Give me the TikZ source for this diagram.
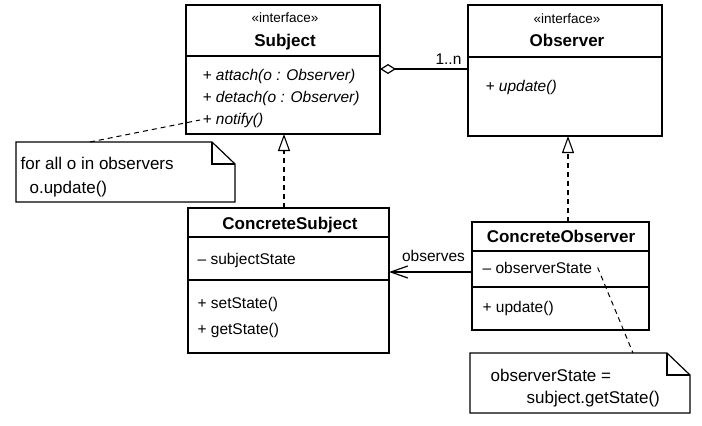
\documentclass[tikz,border=0pt]{standalone}
\usepackage{fontspec}
\setmainfont{Liberation Sans}
\usetikzlibrary{arrows.meta, calc}

\begin{document}
\begin{tikzpicture}[x=1pt, y=-1pt, line width=1.2pt,
    box/.style={draw, anchor=north west, inner sep=0pt, outer sep=0pt},
    stereo/.style={anchor=base, inner sep=0pt, font=\fontsize{13.5}{16}\selectfont},
    title/.style={anchor=base, inner sep=0pt, font=\fontsize{17}{20}\selectfont\bfseries},
    member/.style={anchor=base west, inner sep=0pt, font=\fontsize{15.5}{18}\selectfont},
    notetext/.style={anchor=base west, inner sep=0pt, font=\fontsize{17}{20}\selectfont},
    realize/.style={line width=1.1pt, dash pattern=on 5pt off 4pt, -{Triangle[open, length=17pt, width=12pt]}},
    noteline/.style={line width=1pt, dash pattern=on 5pt off 4pt}]
  \useasboundingbox (0,0) rectangle (702,426);
  % interfaces
  \node[box, minimum width=194pt, minimum height=129pt] (subj) at (186,5) {};
  \draw (subj.west |- 0,56) -- (subj.east |- 0,56);
  \node[stereo] at (285,22) {«interface»};
  \node[title] at (285,46) {Subject};
  \node[member] (attach) at (202,80) {\itshape + attach(o : Observer)};
  \node[member] (detach) at (202,102) {\itshape + detach(o : Observer)};
  \node[member] (notify) at (202,124) {\itshape + notify()};

  \node[box, minimum width=194pt, minimum height=131pt] (obs) at (468,5) {};
  \draw (obs.west |- 0,57) -- (obs.east |- 0,57);
  \node[stereo] at (567,23) {«interface»};
  \node[title] at (567,46) {Observer};
  \node[member] (oupdate) at (485,91) {\itshape + update()};

  % concrete classes
  \node[box, minimum width=201pt, minimum height=145pt] (csubj) at (188,208) {};
  \draw (csubj.west |- 0,237) -- (csubj.east |- 0,237);
  \draw (csubj.west |- 0,280) -- (csubj.east |- 0,280);
  \node[title] at (290,229) {ConcreteSubject};
  \node[member] (sstate) at (197,264) {-- subjectState};
  \node[member] (setstate) at (197,308) {+ setState()};
  \node[member] (getstate) at (197,334) {+ getState()};

  \node[box, minimum width=177pt, minimum height=108pt] (cobs) at (472,222) {};
  \draw (cobs.west |- 0,251) -- (cobs.east |- 0,251);
  \draw (cobs.west |- 0,287) -- (cobs.east |- 0,287);
  \node[title] at (561,242) {ConcreteObserver};
  \node[member] (ostate) at (482,273) {-- observerState};
  \node[member] (cupdate) at (482,312) {+ update()};

  % notes
  \draw (16,142) -- (212,142) -- (235,164) -- (235,202) -- (16,202) -- cycle;
  \draw (212,142) -- (212,164) -- (235,164);
  \node[notetext] (loop1) at (20,169) {for all o in observers};
  \node[notetext] (loop2) at (29,193) {o.update()};
  \coordinate (n1) at (90,142);

  \draw (470,353) -- (667,353) -- (690,375) -- (690,413) -- (470,413) -- cycle;
  \draw (667,353) -- (667,375) -- (690,375);
  \node[notetext] (get1) at (490,381) {observerState =};
  \node[notetext] (get2) at (526,403) {subject.getState()};
  \coordinate (n2) at (633,353);

  % relations
  \draw[{Diamond[open, length=16pt, width=10pt]}-] (subj.east |- 0,69) -- (obs.west |- 0,69)
    node[pos=1, anchor=base east, inner sep=0pt, xshift=-6pt, yshift=5pt, font=\fontsize{15.5}{18}\selectfont] {1..n};
  \draw[realize] (csubj.north -| 284,0) -- (subj.south -| 284,0);
  \draw[realize] (cobs.north -| 568,0) -- (obs.south -| 568,0);
  \draw[-{Straight Barb[length=17pt, width=12pt]}] (cobs.west |- 0,272) -- (csubj.east |- 0,272)
    node[midway, anchor=base, inner sep=0pt, xshift=3pt, yshift=11pt, font=\fontsize{15.5}{18}\selectfont] {observes};
  \draw[noteline] (n1) -- ([xshift=-2pt]notify.west);
  \draw[noteline] ([xshift=5pt]ostate.east) -- (n2);
\end{tikzpicture}
\end{document}
